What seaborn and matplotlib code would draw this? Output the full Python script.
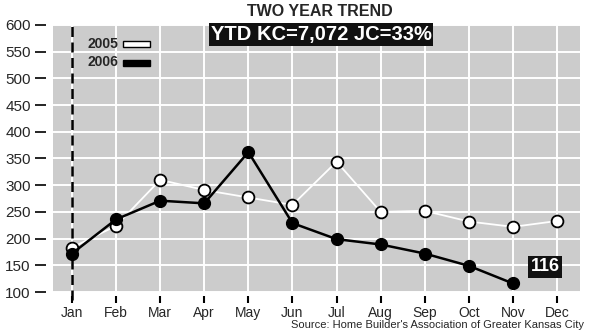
import matplotlib
matplotlib.use("Agg")
import matplotlib.pyplot as plt
from matplotlib.patches import Rectangle
import seaborn as sns
import pandas as pd

# Monthly permit counts
months = ["Jan", "Feb", "Mar", "Apr", "May", "Jun", "Jul", "Aug", "Sep", "Oct", "Nov", "Dec"]
permits_2005 = [183, 224, 310, 291, 277, 263, 344, 250, 252, 232, 222, 233]
permits_2006 = [172, 236, 271, 266, 362, 229, 199, 189, 172, 149, 116]
y_ticks = [100, 150, 200, 250, 300, 350, 400, 450, 500, 550, 600]

title = "TWO YEAR TREND"
ytd_text = "YTD KC=7,072 JC=33%"
source = "Source: Home Builder's Association of Greater Kansas City"

df05 = pd.DataFrame({"idx": range(len(permits_2005)), "permits": permits_2005})
df06 = pd.DataFrame({"idx": range(len(permits_2006)), "permits": permits_2006})

sns.set_theme(style="white")
plt.rcParams["font.family"] = ["Liberation Sans", "DejaVu Sans"]
NARROW = ["Liberation Sans Narrow", "Liberation Sans", "DejaVu Sans"]

fig = plt.figure(figsize=(5.91, 3.33), dpi=100)
ax = fig.add_axes([53 / 591, 41 / 333, 527 / 591, 267 / 333])
ax.set_facecolor("#cccccc")

# white grid on the grey panel
ax.set_xticks(range(len(months)))
ax.set_yticks(y_ticks)
ax.grid(True, color="white", linewidth=1.4)
ax.set_axisbelow(True)

sns.lineplot(data=df05, x="idx", y="permits", ax=ax, color="white", linewidth=1.3,
             marker="o", markersize=8.5, markerfacecolor="white",
             markeredgecolor="black", markeredgewidth=1.3, zorder=3)
sns.lineplot(data=df06, x="idx", y="permits", ax=ax, color="black", linewidth=1.8,
             marker="o", markersize=8.5, markerfacecolor="black",
             markeredgecolor="black", markeredgewidth=1.0, zorder=4)

ax.set_xlim(-0.43, 11.52)
ax.set_ylim(100, 600)

# dashed year-start marker at January
ax.axvline(0, ymin=-0.03, ymax=1.0, color="black", linewidth=1.8,
           linestyle=(0, (4, 2.2)), clip_on=False, zorder=2)

for side in ["top", "right", "bottom", "left"]:
    ax.spines[side].set_visible(False)
ax.spines["left"].set_position(("outward", 5))
ax.spines["bottom"].set_position(("outward", 3))

ax.set_xticklabels(months, fontsize=10, family=NARROW)
ax.set_yticklabels([str(v) for v in y_ticks], fontsize=11)
ax.tick_params(axis="y", direction="out", length=8, width=1.2, color="black", pad=3,
               left=True)
ax.tick_params(axis="x", direction="out", length=5, width=1.5, color="black", pad=2,
               bottom=True)
ax.set_xlabel("")
ax.set_ylabel("")

# titles
fig.text(320 / 591, 1 - 11 / 333, title, ha="center", va="center",
         fontsize=11.5, fontweight="bold")
ax.text((321 - 53) / 527, 0.965, ytd_text, transform=ax.transAxes, ha="center", va="center",
        fontsize=14.5, fontweight="bold", color="white", zorder=6,
        bbox=dict(boxstyle="square,pad=0.1", facecolor="#111111", edgecolor="none"))

# legend swatches
ax.text(0.066, 0.93, "2005", transform=ax.transAxes, ha="left", va="center",
        fontsize=10, fontweight="bold", family=NARROW, zorder=6)
ax.text(0.066, 0.86, "2006", transform=ax.transAxes, ha="left", va="center",
        fontsize=10, fontweight="bold", family=NARROW, zorder=6)
ax.add_patch(Rectangle((0.132, 0.918), 0.052, 0.022, transform=ax.transAxes,
                       facecolor="white", edgecolor="black", linewidth=1.0, zorder=6))
ax.add_patch(Rectangle((0.132, 0.848), 0.052, 0.022, transform=ax.transAxes,
                       facecolor="black", edgecolor="black", linewidth=1.0, zorder=6))

# value callout for the latest month
ax.text(10.4, 147, str(permits_2006[-1]), ha="left", va="center",
        fontsize=13, fontweight="bold", color="white", zorder=6,
        bbox=dict(boxstyle="square,pad=0.12", facecolor="#111111", edgecolor="none"))

fig.text(584 / 591, 1 - 325 / 333, source, ha="right", va="center",
         fontsize=8, family=NARROW)

fig.savefig("out.png", dpi=100)
